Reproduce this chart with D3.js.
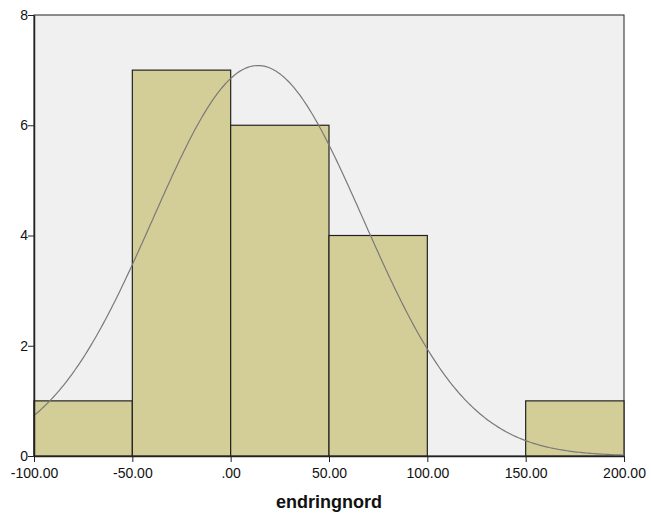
<!DOCTYPE html>
<html lang="en">
<head>
  <meta charset="UTF-8">
  <title>endringnord histogram</title>
  <script src="https://d3js.org/d3.v7.min.js"></script>
  <style>
    body { margin: 0; background: #fff; }
    text { font-family: Arial, "Liberation Sans", sans-serif; }
  </style>
</head>
<body>

<svg id="chart" width="651" height="515"></svg>

<script>
  // histogram bins (lower edges) and counts
  var binStarts = [-100, -50, 0, 50, 100, 150];
  var binWidth = 50;
  var counts = [1, 7, 6, 4, 0, 1];
  var xTicks = [-100, -50, 0, 50, 100, 150, 200];
  var yTicks = [0, 2, 4, 6, 8];

  // fitted normal curve parameters
  var curveMean = 13.9;
  var curveSd = 53.5;
  var curveN = 19;

  var margin = { left: 34, right: 27, top: 15, bottom: 59 };
  var width = 651 - margin.left - margin.right;
  var height = 515 - margin.top - margin.bottom;

  var svg = d3.select('#chart');
  var g = svg.append('g').attr('transform', 'translate(' + margin.left + ',' + margin.top + ')');

  var x = d3.scaleLinear().domain([-100, 200]).range([0, width]);
  var y = d3.scaleLinear().domain([0, 8]).range([height, 0]);

  // plot background
  g.append('rect')
    .attr('width', width).attr('height', height)
    .attr('fill', '#f0f0f0')
    .attr('stroke', '#222').attr('stroke-width', 1);

  // bars
  g.selectAll('rect.bar')
    .data(binStarts.map(function (s, i) { return { x0: s, count: counts[i] }; }).filter(function (d) { return d.count > 0; }))
    .enter()
    .append('rect')
    .attr('class', 'bar')
    .attr('x', function (d) { return x(d.x0); })
    .attr('y', function (d) { return y(d.count); })
    .attr('width', function (d) { return x(d.x0 + binWidth) - x(d.x0); })
    .attr('height', function (d) { return y(0) - y(d.count); })
    .attr('fill', '#d3ce97')
    .attr('stroke', '#222')
    .attr('stroke-width', 1.2);

  // normal curve
  var pts = d3.range(-100, 200.5, 1).map(function (v) {
    var z = (v - curveMean) / curveSd;
    return [v, curveN * binWidth * Math.exp(-0.5 * z * z) / (curveSd * Math.sqrt(2 * Math.PI))];
  });
  g.append('path')
    .datum(pts)
    .attr('fill', 'none')
    .attr('stroke', '#7a7a7a')
    .attr('stroke-width', 1.2)
    .attr('d', d3.line().x(function (d) { return x(d[0]); }).y(function (d) { return y(d[1]); }));

  // axes
  var fmt = function (d) {
    if (d === 0) return '.00';
    return (d < 0 ? '-' : '') + Math.abs(d).toFixed(2);
  };
  var xAxis = g.append('g')
    .attr('transform', 'translate(0,' + height + ')')
    .call(d3.axisBottom(x).tickValues(xTicks).tickFormat(fmt).tickSize(6).tickSizeOuter(0));
  var yAxis = g.append('g')
    .call(d3.axisLeft(y).tickValues(yTicks).tickSize(6).tickSizeOuter(0));

  [xAxis, yAxis].forEach(function (a) {
    a.select('.domain').attr('stroke', '#222').attr('stroke-width', 1.5);
    a.selectAll('.tick line').attr('stroke', '#222');
    a.selectAll('.tick text').attr('fill', '#111').style('font-size', '14px');
  });
  xAxis.selectAll('.tick text').attr('dy', '0.95em');
  yAxis.selectAll('.tick text').attr('x', -6);

  svg.append('text')
    .attr('x', margin.left + x(50))
    .attr('y', 508)
    .attr('text-anchor', 'middle')
    .style('font-size', '18px')
    .style('font-weight', 'bold')
    .attr('fill', '#111')
    .text('endringnord');
</script>

</body>
</html>
